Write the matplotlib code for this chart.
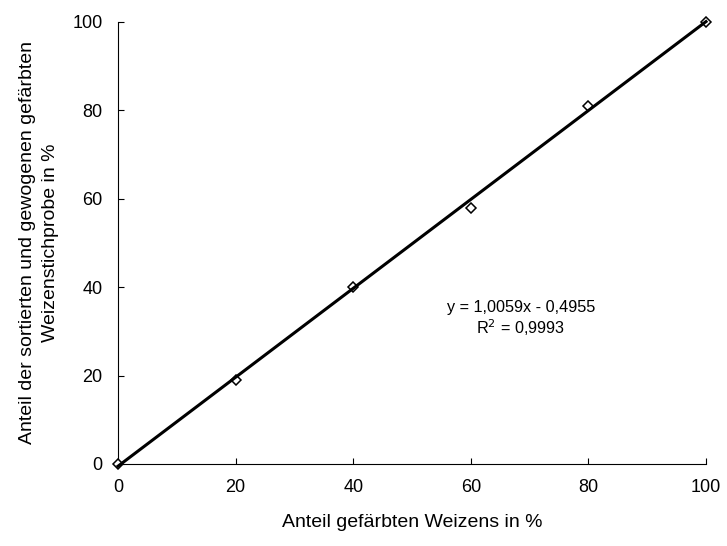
import matplotlib
matplotlib.use("Agg")
import matplotlib.pyplot as plt
import numpy as np

plt.rcParams['font.family'] = ['Liberation Sans', 'DejaVu Sans']

# Data: dyed wheat share vs. sorted/weighed share
anteil_gefaerbt = [0, 20, 40, 60, 80, 100]
anteil_sortiert = [0, 19, 40, 58, 81, 100]

# Linear fit reported on the chart
slope = 1.0059
intercept = -0.4955
r_squared = 0.9993

x_ticks = [0, 20, 40, 60, 80, 100]
y_ticks = [0, 20, 40, 60, 80, 100]

fig = plt.figure(figsize=(7.27, 5.46), dpi=100)
ax = fig.add_axes([118 / 727, (546 - 464) / 546, (706 - 118) / 727, (464 - 22) / 546])

ax.plot(anteil_gefaerbt, anteil_sortiert, linestyle='none', marker='D',
        markersize=5.5, markerfacecolor='white', markeredgecolor='black',
        markeredgewidth=1.1, zorder=3, clip_on=False)

xf = np.array([0, 100])
ax.plot(xf, slope * xf + intercept, color='black', linewidth=2.2, zorder=4,
        clip_on=False)

ax.set_xlim(0, 100)
ax.set_ylim(0, 100)
ax.set_xticks(x_ticks)
ax.set_yticks(y_ticks)
ax.tick_params(direction='in', length=4, width=0.8, labelsize=13, pad=11)

for s in ('top', 'right'):
    ax.spines[s].set_visible(False)
for s in ('left', 'bottom'):
    ax.spines[s].set_linewidth(0.8)

ax.set_xlabel('Anteil gefärbten Weizens in %', fontsize=14, labelpad=13)
ax.set_ylabel('Anteil der sortierten und gewogenen gefärbten\nWeizenstichprobe in %',
              fontsize=14, labelpad=10, linespacing=1.4)

ax.text(68.5, 35.5, f'y = {slope:.4f}x - {abs(intercept):.4f}'.replace('.', ','),
        fontsize=11.7, ha='center', va='center')
ax.text(68.5, 30.8, f'R$^{{2}}$ = {r_squared:.4f}'.replace('.', ','),
        fontsize=11.7, ha='center', va='center')

fig.savefig('out.png', dpi=100)
